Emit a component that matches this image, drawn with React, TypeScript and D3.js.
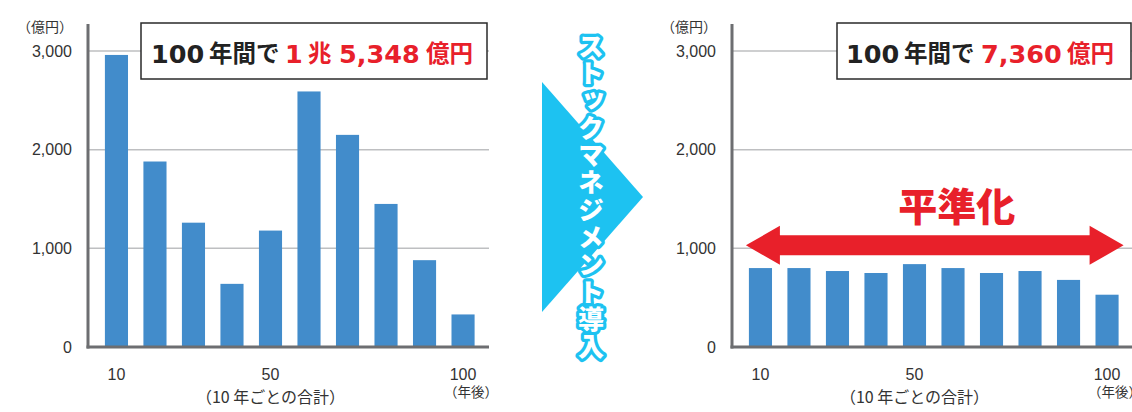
import React from "react";
import * as d3 from "d3";

const categories = [10, 20, 30, 40, 50, 60, 70, 80, 90, 100];
const beforeValues = [2960, 1880, 1260, 640, 1180, 2590, 2150, 1450, 880, 330];
const afterValues = [800, 800, 770, 750, 840, 800, 750, 770, 680, 530];
const yTicks = [0, 1000, 2000, 3000];
const xTicksShown = [10, 50, 100];
const beforeTitle = [
  { t: "100", red: false, num: true },
  { t: "年間で", red: false, num: false },
  { t: "1", red: true, num: true },
  { t: "兆", red: true, num: false },
  { t: "5,348", red: true, num: true },
  { t: "億円", red: true, num: false },
];
const afterTitle = [
  { t: "100", red: false, num: true },
  { t: "年間で", red: false, num: false },
  { t: "7,360", red: true, num: true },
  { t: "億円", red: true, num: false },
];
const arrowText = "ストックマネジメント導入";

const BLUE = "#428CCB";
const RED = "#E8202A";
const CYAN = "#1DC2F1";
const AXIS = "#6D6E71";
const GRID = "#BEBFC1";
const TXT = "#333";
const NUMFONT = "'Liberation Sans', Arial, 'Noto Sans CJK JP', sans-serif";
const BOLDNUM = "'DejaVu Sans', 'Liberation Sans', sans-serif";
const JPFONT = "'Noto Sans CJK JP', 'Liberation Sans', sans-serif";

const Y0 = 347;
const Y3000 = 51;

function Chart({ axisX, values }: { axisX: number; values: number[] }) {
  const x = d3
    .scaleBand<number>()
    .domain(categories)
    .range([axisX + 1.5, axisX + 402])
    .paddingInner(0.4)
    .paddingOuter(0.4);
  const y = d3.scaleLinear().domain([0, 3000]).range([Y0, Y3000]);
  const xEnd = axisX + 401;
  return (
    <g>
      {yTicks.map((t) => (
        <g key={t}>
          {t > 0 && (
            <line x1={axisX} x2={xEnd} y1={y(t)} y2={y(t)} stroke={GRID} strokeWidth={1.5} />
          )}
          <text
            x={axisX - 16}
            y={y(t) + 5.5}
            textAnchor="end"
            fontFamily={NUMFONT}
            fontSize={16}
            fill={TXT}
          >
            {d3.format(",")(t)}
          </text>
        </g>
      ))}
      <text x={axisX - 15} y={32} textAnchor="end" fontFamily={JPFONT} fontSize={14} fill={TXT}>
        （億円）
      </text>
      {categories.map((c, i) => (
        <rect
          key={c}
          x={x(c)}
          width={x.bandwidth()}
          y={y(values[i])}
          height={Y0 - y(values[i])}
          fill={BLUE}
        />
      ))}
      <line x1={axisX} x2={axisX} y1={24} y2={Y0 + 1.5} stroke={AXIS} strokeWidth={3} />
      <line x1={axisX - 1.5} x2={xEnd} y1={Y0} y2={Y0} stroke={AXIS} strokeWidth={3} />
      {xTicksShown.map((c) => (
        <text
          key={c}
          x={(x(c) as number) + x.bandwidth() / 2}
          y={380}
          textAnchor="middle"
          fontFamily={NUMFONT}
          fontSize={16}
          fill={TXT}
        >
          {c}
        </text>
      ))}
      <text
        x={(x(50) as number) + x.bandwidth() / 2}
        y={403}
        textAnchor="middle"
        fontFamily={JPFONT}
        fontSize={16}
        fill={TXT}
      >
        （10 年ごとの合計）
      </text>
      <text
        x={(x(100) as number) + x.bandwidth() / 2 - 19}
        y={397}
        fontFamily={JPFONT}
        fontSize={13.5}
        fill={TXT}
      >
        （年後）
      </text>
    </g>
  );
}

function TitleBox({
  x0,
  x1,
  parts,
  starts,
}: {
  x0: number;
  x1: number;
  parts: { t: string; red: boolean; num: boolean }[];
  starts: number[];
}) {
  return (
    <g>
      <rect x={x0} y={23} width={x1 - x0} height={56} fill="#fff" stroke="#2a2a2a" strokeWidth={1.5} />
      {parts.map((p, i) => (
        <text
          key={i}
          x={starts[i]}
          y={p.num ? 62.5 : 61.5}
          fontFamily={p.num ? BOLDNUM : JPFONT}
          fontWeight={700}
          fontSize={p.num ? 25.5 : 23.5}
          fill={p.red ? RED : "#222"}
        >
          {p.t}
        </text>
      ))}
    </g>
  );
}

export default function App() {
  const xr = d3
    .scaleBand<number>()
    .domain(categories)
    .range([732 + 1.5, 732 + 402])
    .paddingInner(0.4)
    .paddingOuter(0.4);
  const yr = d3.scaleLinear().domain([0, 3000]).range([Y0, Y3000]);
  const aL = (xr(10) as number) - 3;
  const aR = (xr(100) as number) + xr.bandwidth() + 5;
  const ay = yr(1000) - 3;
  const hl = 34;
  const arrowPath = [
    [aL, ay],
    [aL + hl, ay - 19.5],
    [aL + hl, ay - 10],
    [aR - hl, ay - 10],
    [aR - hl, ay - 19.5],
    [aR, ay],
    [aR - hl, ay + 19.5],
    [aR - hl, ay + 10],
    [aL + hl, ay + 10],
    [aL + hl, ay + 19.5],
  ];
  return (
    <svg
      width={1132}
      height={412}
      style={{ position: "absolute", left: 0, top: 0, display: "block", background: "#fff" }}
    >
      <Chart axisX={88} values={beforeValues} />
      <TitleBox x0={141} x1={487} parts={beforeTitle} starts={[151, 209, 285, 308, 339, 426]} />

      <Chart axisX={732} values={afterValues} />
      <TitleBox x0={837} x1={1131} parts={afterTitle} starts={[846, 904, 981, 1067]} />

      <path d={d3.line()(arrowPath as [number, number][]) + "Z"} fill={RED} />
      <text
        x={(aL + aR) / 2 + 22}
        y={221}
        textAnchor="middle"
        fontFamily={JPFONT}
        fontWeight={900}
        fontSize={39}
        fill={RED}
      >
        平準化
      </text>

      <polygon points="542,82 643,197 542,312" fill={CYAN} />
      <text
        x={591}
        y={33}
        style={{ writingMode: "vertical-rl" } as React.CSSProperties}
        fontFamily={JPFONT}
        fontWeight={900}
        fontSize={26}
        letterSpacing={1.3}
        fill="#fff"
        stroke={CYAN}
        strokeWidth={6.5}
        strokeLinejoin="round"
        paintOrder="stroke"
      >
        {arrowText}
      </text>
    </svg>
  );
}
